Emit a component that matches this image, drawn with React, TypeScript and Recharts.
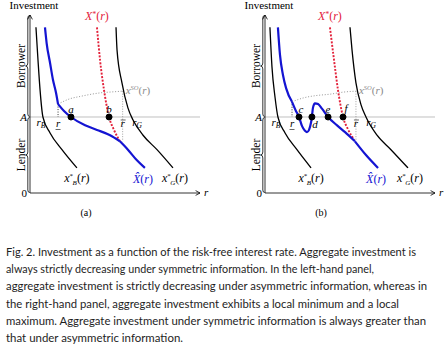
import {
  ComposedChart,
  Line,
  XAxis,
  YAxis,
  ReferenceLine,
  ReferenceDot,
  ReferenceArea,
} from 'recharts';

type Pt = [number, number]; // [interest rate r, investment]

// ---- panel (a) ----
const A_XB: Pt[] = [[0.35, 2.18], [0.47, 1.75], [0.59, 1.36], [0.76, 1.0], [1.18, 0.79], [1.88, 0.57], [2.76, 0.33]];
const A_HAT_UP: Pt[] = [[0.88, 2.18], [0.98, 1.97], [1.18, 1.71], [1.35, 1.49], [1.53, 1.32], [1.65, 1.17]];
const A_HAT_MID: Pt[] = [[1.65, 1.17], [2.0, 1.08], [2.41, 1.0], [3.24, 0.89], [3.94, 0.83], [4.71, 0.76], [5.29, 0.68]];
const A_HAT_LOW: Pt[] = [[5.29, 0.68], [5.76, 0.57], [6.29, 0.43], [6.76, 0.33]];
const A_XSTAR: Pt[] = [[3.94, 2.18], [4.12, 1.75], [4.35, 1.36], [4.65, 1.0], [4.94, 0.83], [5.29, 0.68]];
const A_XG: Pt[] = [[5.06, 2.18], [5.12, 1.88], [5.41, 1.45], [5.76, 1.12], [6.06, 0.96], [6.65, 0.76], [7.47, 0.57], [8.41, 0.33]];
const A_XSO: Pt[] = [[1.65, 1.17], [2.35, 1.24], [2.94, 1.27], [4.24, 1.32], [4.82, 1.33], [5.45, 1.34]];
const A_DOTS = [{ name: 'a', r: 2.41 }, { name: 'b', r: 4.65 }];
const A_RATES = { rB: 0.76, rLow: 1.65, rBar: 5.45, rG: 6.0 };

// ---- panel (b) ----
const B_XB: Pt[] = [[0.29, 2.18], [0.41, 1.66], [0.59, 1.26], [0.76, 1.0], [1.18, 0.79], [1.88, 0.57], [2.71, 0.33]];
const B_HAT_UP: Pt[] = [[0.76, 2.18], [0.88, 1.82], [1.06, 1.55], [1.24, 1.38], [1.59, 1.2]];
const B_HAT_MID: Pt[] = [
  [1.59, 1.2], [1.82, 1.08], [2.0, 1.0], [2.18, 0.88], [2.35, 0.82], [2.47, 0.8], [2.59, 0.83],
  [2.71, 0.93], [2.76, 1.0], [2.82, 1.12], [2.94, 1.18], [3.12, 1.17], [3.35, 1.11], [3.71, 1.0],
  [4.24, 0.89], [4.71, 0.8], [5.29, 0.68],
];
const B_HAT_LOW: Pt[] = [[5.29, 0.68], [5.94, 0.5], [6.65, 0.33]];
const B_XSTAR: Pt[] = [[3.82, 2.18], [4.06, 1.75], [4.29, 1.36], [4.59, 1.0], [4.88, 0.84], [5.24, 0.7]];
const B_XG: Pt[] = [[5.0, 2.18], [5.12, 1.88], [5.35, 1.45], [5.65, 1.16], [5.94, 1.0], [6.59, 0.76], [7.41, 0.57], [8.41, 0.33]];
const B_XSO: Pt[] = [[1.59, 1.2], [2.24, 1.25], [2.94, 1.28], [3.82, 1.3], [4.71, 1.33], [5.35, 1.34]];
const B_DOTS = [{ name: 'c', r: 2.0 }, { name: 'd', r: 2.76 }, { name: 'e', r: 3.71 }, { name: 'f', r: 4.59 }];
const B_RATES = { rB: 0.76, rLow: 1.59, rBar: 5.35, rG: 5.94 };

const A_LEVEL = 1;
const R_MAX = 10;
const I_MAX = 2.342;

const CAPTION_LINES = [
  'Fig. 2. Investment as a function of the risk-free interest rate. Aggregate investment is',
  'always strictly decreasing under symmetric information. In the left-hand panel,',
  'aggregate investment is strictly decreasing under asymmetric information, whereas in',
  'the right-hand panel, aggregate investment exhibits a local minimum and a local',
  'maximum. Aggregate investment under symmetric information is always greater than',
  'that under asymmetric information.',
];
const CAPTION_WIDTHS = [410, 368, 421, 393, 420, 177];

const SERIF = '"Liberation Serif", "DejaVu Serif", serif';
const BLUE = '#1414d2';
const RED = '#e3213a';
const GRAY = '#8a8a8a';

const pts = (a: Pt[]) => a.map(([r, i]) => ({ r, i }));

const DOT_OFFSET: Record<string, [number, number]> = {
  a: [0, -4], b: [0, -4], c: [2, -4], d: [3, 11], e: [0, -4], f: [3, -5],
};

interface PanelData {
  xb: Pt[]; hatUp: Pt[]; hatMid: Pt[]; hatLow: Pt[]; xstar: Pt[]; xg: Pt[]; xso: Pt[];
  dots: { name: string; r: number }[];
  rates: { rB: number; rLow: number; rBar: number; rG: number };
  tag: string;
}

const txt = (cx: number, cy: number, children: any, o: any = {}) => (
  <text
    x={cx + (o.dx || 0)}
    y={cy + (o.dy || 0)}
    textAnchor={o.anchor || 'middle'}
    fill={o.color || '#000'}
    fontFamily={SERIF}
    fontSize={o.size || 11}
    fontStyle={o.italic ? 'italic' : 'normal'}
  >
    {children}
  </text>
);

const label = (children: any, o: any = {}) => (p: any) => txt(p.cx, p.cy, children, o);

const Arrow = (p: any) => {
  const { x1, y1, x2, y2 } = p;
  const a = Math.atan2(y2 - y1, x2 - x1);
  const L = 5;
  const s = 0.5;
  const q1 = [x2 - L * Math.cos(a - s), y2 - L * Math.sin(a - s)];
  const q2 = [x2 - L * Math.cos(a + s), y2 - L * Math.sin(a + s)];
  return (
    <g>
      <line x1={x1} y1={y1} x2={x2} y2={y2} stroke="#000" strokeWidth={0.8} />
      <path d={`M${q1[0]},${q1[1]} L${x2},${y2} L${q2[0]},${q2[1]}`} stroke="#000" strokeWidth={0.8} fill="none" />
    </g>
  );
};

const Brace = (text: string) => (p: any) => {
  const { x, y, width, height } = p;
  const xr = x + width;
  const xm = x + width * 0.55;
  const mid = y + height / 2;
  const c = 3;
  const d = `M${xr},${y + 0.5} Q${xm},${y + 0.5} ${xm},${y + c} L${xm},${mid - c} Q${xm},${mid} ${x},${mid} Q${xm},${mid} ${xm},${mid + c} L${xm},${y + height - c} Q${xm},${y + height - 0.5} ${xr},${y + height - 0.5}`;
  return (
    <g>
      <path d={d} stroke="#000" strokeWidth={0.8} fill="none" />
      <text
        x={x - 1}
        y={mid}
        transform={`rotate(-90 ${x - 1} ${mid})`}
        textAnchor="middle"
        fontFamily={SERIF}
        fontSize={11.5}
        fill="#000"
      >
        {text}
      </text>
    </g>
  );
};

const rSub = (s: string) => (
  <>
    <tspan fontStyle="italic">r</tspan>
    <tspan fontStyle="italic" fontSize={7.5} dy={2.5}>{s}</tspan>
  </>
);

const RLow = (p: any) => (
  <g>
    {txt(p.cx, p.cy, 'r', { dy: 10, italic: true })}
    <line x1={p.cx - 2.5} x2={p.cx + 2.5} y1={p.cy + 12.5} y2={p.cy + 12.5} stroke="#000" strokeWidth={0.6} />
  </g>
);

const RBar = (p: any) => (
  <g>
    {txt(p.cx, p.cy, 'r', { dy: 10, italic: true })}
    <line x1={p.cx - 2} x2={p.cx + 3} y1={p.cy + 3} y2={p.cy + 3} stroke="#000" strokeWidth={0.6} />
  </g>
);

const xStar = (s: string) => (
  <>
    <tspan fontStyle="italic">x</tspan>
    <tspan fontSize={7} dy={-3.5}>*</tspan>
    <tspan fontStyle="italic" fontSize={7} dx={-0.5} dy={6.5}>{s}</tspan>
    <tspan dy={-3}>(</tspan>
    <tspan fontStyle="italic">r</tspan>
    <tspan>)</tspan>
  </>
);

function Panel({ p, left }: { p: PanelData; left: number }) {
  const soStart = p.xso[0];
  const soEnd = p.xso[p.xso.length - 1];
  const kink = p.hatLow[0];
  const lineCommon = { dataKey: 'i', dot: false, activeDot: false, isAnimationActive: false } as const;
  return (
    <div style={{ position: 'absolute', left, top: 0 }}>
      <ComposedChart width={222} height={222} margin={{ top: 15, right: 22, bottom: 29, left: 30 }}>
        <XAxis type="number" dataKey="r" domain={[0, R_MAX]} hide allowDataOverflow />
        <YAxis type="number" dataKey="i" domain={[0, I_MAX]} hide allowDataOverflow />

        <ReferenceLine y={A_LEVEL} stroke="#b0b0b0" strokeWidth={0.8} />
        <ReferenceLine segment={[{ x: 0, y: 0 }, { x: 0, y: I_MAX }]} shape={Arrow} ifOverflow="visible" />
        <ReferenceLine segment={[{ x: 0, y: 0 }, { x: R_MAX, y: 0 }]} shape={Arrow} ifOverflow="visible" />
        <ReferenceArea x1={-0.26} x2={-0.02} y1={A_LEVEL} y2={I_MAX} ifOverflow="visible" shape={Brace('Borrower')} />
        <ReferenceArea x1={-0.26} x2={-0.02} y1={0} y2={A_LEVEL} ifOverflow="visible" shape={Brace('Lender')} />

        <ReferenceLine
          segment={[{ x: p.rates.rLow, y: soStart[1] }, { x: p.rates.rLow, y: A_LEVEL }]}
          stroke="#333"
          strokeWidth={1}
          strokeDasharray="1 1.5"
        />
        <ReferenceLine
          segment={[{ x: p.rates.rBar, y: soEnd[1] }, { x: p.rates.rBar, y: kink[1] }]}
          stroke={GRAY}
          strokeWidth={0.8}
          strokeDasharray="1 1.5"
        />

        <Line {...lineCommon} data={pts(p.xso)} type="monotone" stroke={GRAY} strokeWidth={0.9} strokeDasharray="1 1.8" />
        <Line {...lineCommon} data={pts(p.xb)} type="monotone" stroke="#000" strokeWidth={1.3} />
        <Line {...lineCommon} data={pts(p.xg)} type="monotone" stroke="#000" strokeWidth={1.3} />
        <Line {...lineCommon} data={pts(p.xstar)} type="monotone" stroke={RED} strokeWidth={1.9} strokeDasharray="2 1.5" />
        <Line {...lineCommon} data={pts(p.hatUp)} type="monotone" stroke={BLUE} strokeWidth={2.2} />
        <Line {...lineCommon} data={pts(p.hatMid)} type="monotone" stroke={BLUE} strokeWidth={2.2} />
        <Line {...lineCommon} data={pts(p.hatLow)} type="monotone" stroke={BLUE} strokeWidth={2.2} />

        {p.dots.map((d) => (
          <ReferenceDot key={d.name} x={d.r} y={A_LEVEL} r={3} fill="#000" stroke="#000" />
        ))}
        {p.dots.map((d) => (
          <ReferenceDot
            key={'l' + d.name}
            x={d.r}
            y={A_LEVEL}
            r={0}
            ifOverflow="visible"
            shape={label(d.name, { dx: DOT_OFFSET[d.name][0], dy: DOT_OFFSET[d.name][1], italic: true })}
          />
        ))}

        <ReferenceDot x={0} y={I_MAX} r={0} ifOverflow="visible" shape={label('Investment', { dx: 4, dy: -6 })} />
        <ReferenceDot x={0} y={A_LEVEL} r={0} ifOverflow="visible" shape={label('A', { dx: -3, dy: 4, anchor: 'end', italic: true })} />
        <ReferenceDot x={0} y={0} r={0} ifOverflow="visible" shape={label('0', { dx: -3, dy: 4, anchor: 'end' })} />
        <ReferenceDot x={R_MAX} y={0} r={0} ifOverflow="visible" shape={label('r', { dx: 4, dy: 3, anchor: 'start', italic: true })} />
        <ReferenceDot x={3.3} y={0} r={0} ifOverflow="visible" shape={label(p.tag, { dy: 23, size: 10 })} />

        <ReferenceDot x={p.rates.rB} y={A_LEVEL} r={0} ifOverflow="visible" shape={label(rSub('B'), { dx: -2, dy: 9 })} />
        <ReferenceDot x={p.rates.rLow} y={A_LEVEL} r={0} ifOverflow="visible" shape={RLow} />
        <ReferenceDot x={p.rates.rBar} y={A_LEVEL} r={0} ifOverflow="visible" shape={RBar} />
        <ReferenceDot x={p.rates.rG} y={A_LEVEL} r={0} ifOverflow="visible" shape={label(rSub('G'), { dx: 5, dy: 9 })} />

        <ReferenceDot
          x={p.xstar[0][0]}
          y={p.xstar[0][1]}
          r={0}
          ifOverflow="visible"
          shape={label(
            <>
              <tspan fontStyle="italic">X</tspan>
              <tspan fontSize={7.5} dy={-3}>*</tspan>
              <tspan dy={3}>(</tspan>
              <tspan fontStyle="italic">r</tspan>
              <tspan>)</tspan>
            </>,
            { dy: -7, color: RED, size: 12 },
          )}
        />
        <ReferenceDot
          x={soEnd[0]}
          y={soEnd[1]}
          r={0}
          ifOverflow="visible"
          shape={label(
            <>
              <tspan fontStyle="italic">x</tspan>
              <tspan fontStyle="italic" fontSize={6.5} dy={-4}>SO</tspan>
              <tspan dy={4}>(</tspan>
              <tspan fontStyle="italic">r</tspan>
              <tspan>)</tspan>
            </>,
            { dx: 3, dy: 3, anchor: 'start', color: GRAY },
          )}
        />
        {(() => {
          const e = p.xb[p.xb.length - 1];
          return <ReferenceDot x={e[0]} y={e[1]} r={0} ifOverflow="visible" shape={label(xStar('B'), { dy: 14, size: 12 })} />;
        })()}
        {(() => {
          const e = p.xg[p.xg.length - 1];
          return <ReferenceDot x={e[0]} y={e[1]} r={0} ifOverflow="visible" shape={label(xStar('G'), { dx: 2, dy: 14, size: 12 })} />;
        })()}
        {(() => {
          const e = p.hatLow[p.hatLow.length - 1];
          return (
            <ReferenceDot
              x={e[0]}
              y={e[1]}
              r={0}
              ifOverflow="visible"
              shape={label(
                <>
                  <tspan fontStyle="italic">{'X\u0302'}</tspan>
                  <tspan>(</tspan>
                  <tspan fontStyle="italic">r</tspan>
                  <tspan>)</tspan>
                </>,
                { dx: -2, dy: 15, color: BLUE, size: 12 },
              )}
            />
          );
        })()}
      </ComposedChart>
    </div>
  );
}

const PANEL_A: PanelData = {
  xb: A_XB, hatUp: A_HAT_UP, hatMid: A_HAT_MID, hatLow: A_HAT_LOW, xstar: A_XSTAR, xg: A_XG, xso: A_XSO,
  dots: A_DOTS, rates: A_RATES, tag: '(a)',
};
const PANEL_B: PanelData = {
  xb: B_XB, hatUp: B_HAT_UP, hatMid: B_HAT_MID, hatLow: B_HAT_LOW, xstar: B_XSTAR, xg: B_XG, xso: B_XSO,
  dots: B_DOTS, rates: B_RATES, tag: '(b)',
};

export default function App() {
  return (
    <div style={{ position: 'absolute', left: 0, top: 0, width: 447, height: 345, background: '#fff', overflow: 'hidden' }}>
      <Panel p={PANEL_A} left={0} />
      <Panel p={PANEL_B} left={235} />
      <svg width={447} height={115} style={{ position: 'absolute', left: 0, top: 230 }}>
        {CAPTION_LINES.map((line, k) => (
          <text
            key={k}
            x={6}
            y={26 + k * 17.2}
            fontFamily="Lato, 'Open Sans', sans-serif"
            fontSize={11.2}
            fill="#1e1e1e"
            textLength={CAPTION_WIDTHS[k]}
            lengthAdjust="spacingAndGlyphs"
          >
            {line}
          </text>
        ))}
      </svg>
    </div>
  );
}
